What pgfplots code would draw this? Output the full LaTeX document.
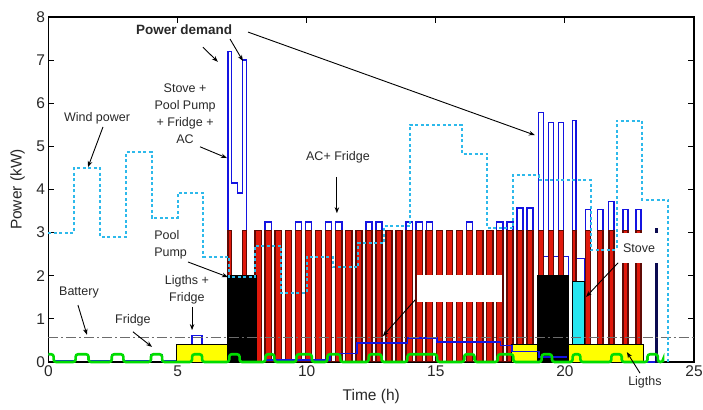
\documentclass[border=0pt]{standalone}
\usepackage{fontspec}
\setmainfont{Liberation Sans}
\usepackage{pgfplots}
\pgfplotsset{compat=1.18}
\usetikzlibrary{calc,arrows.meta}
\definecolor{acred}{RGB}{225,25,12}
\definecolor{acdark}{RGB}{95,10,5}
\definecolor{demblue}{RGB}{20,20,225}
\definecolor{windc}{RGB}{45,185,235}
\definecolor{fridgeg}{RGB}{0,220,0}
\definecolor{stovec}{RGB}{40,230,240}
\definecolor{lightsy}{RGB}{255,255,0}
\definecolor{navybar}{RGB}{10,10,80}
\definecolor{txt}{RGB}{40,40,40}
\begin{document}
\begin{tikzpicture}
\tikzset{ann/.style={font=\fontsize{12.5bp}{17bp}\selectfont, text=txt, align=center, inner sep=1bp},
         arr/.style={-{Stealth[length=6bp,width=4.5bp]}, line width=0.9bp, black}}
\begin{axis}[
 width=645.5bp, height=345bp, scale only axis,
 xmin=0, xmax=25, ymin=0, ymax=8,
 xtick={0,5,...,25}, ytick={0,1,...,8},
 tick align=inside, xtick pos=both, ytick pos=both,
 major tick length=6bp,
 axis line style={line width=1.1bp},
 every tick/.style={black, line width=1bp},
 tick label style={font=\fontsize{15.5bp}{18bp}\selectfont, text=txt},
 /pgf/number format/assume math mode=true,
 xlabel={Time (h)}, ylabel={Power (kW)},
 label style={font=\fontsize{15.5bp}{18bp}\selectfont, text=txt},
 xlabel style={at={(axis description cs:0.5,-0.1014)}, anchor=center},
 ylabel style={at={(axis description cs:-0.048,0.5)}, anchor=center},
 clip=false,
 every axis plot/.append style={const plot},
]
\coordinate (SW) at (rel axis cs:0,0);
\coordinate (NE) at (rel axis cs:1,1);

% Power demand
\addplot[demblue, line width=1.4bp] coordinates {
(0,0.18)(0.2,0.02)(1.05,0.18)(1.55,0.02)(2.45,0.18)(2.9,0.02)(3.97,0.18)(4.4,0.02)
(5.00,0.40)(5.56,0.62)(5.95,0.40)(6.95,7.20)(7.08,4.15)(7.32,3.92)(7.52,7.00)(7.67,2.00)
(8.00,3.05)(8.24,0)(8.39,3.25)(8.63,0)(8.78,3.05)(9.02,0)(9.17,3.05)(9.41,0)
(9.56,3.25)(9.80,0)(9.95,3.25)(10.19,0)(10.34,3.05)(10.58,0)(10.73,3.25)(10.97,0)
(11.12,3.25)(11.36,0)(11.51,3.05)(11.75,0)(11.90,3.05)(12.14,0)(12.29,3.25)(12.53,0)
(12.68,3.25)(12.92,0)(13.07,3.05)(13.31,0)(13.46,3.05)(13.70,0)(13.85,3.25)(14.09,0)
(14.24,3.25)(14.48,0)(14.63,3.25)(14.87,0)(15.02,3.05)(15.26,0)(15.41,3.05)(15.65,0)
(15.80,3.05)(16.04,0)(16.19,3.25)(16.43,0)(16.58,3.05)(16.82,0)(16.97,3.05)(17.21,0)
(17.36,3.25)(17.60,0)(17.75,3.25)(17.99,0.40)(18.14,3.57)(18.38,0.40)(18.53,3.57)(18.77,0.40)
(18.97,5.78)(19.17,2.45)(19.36,5.55)(19.56,2.45)(19.75,5.55)(19.95,2.45)(20.15,0.40)
(20.30,5.60)(20.43,2.40)(20.75,0.40)(20.80,3.53)(21.00,0.40)(21.27,3.53)(21.47,0.40)
(21.70,3.72)(21.90,0.40)(22.25,3.53)(22.45,0.40)(22.75,3.53)(22.95,0.40)(23.05,0)(23.70,0)};

% AC
\addplot[fill=acred, draw=acdark, line width=1.5bp] coordinates {
(6.95,3.05)(7.08,0)(7.52,3.05)(7.67,0)
(8.00,3.05)(8.24,0)(8.39,3.05)(8.63,0)(8.78,3.05)(9.02,0)(9.17,3.05)(9.41,0)
(9.56,3.05)(9.80,0)(9.95,3.05)(10.19,0)(10.34,3.05)(10.58,0)(10.73,3.05)(10.97,0)
(11.12,3.05)(11.36,0)(11.51,3.05)(11.75,0)(11.90,3.05)(12.14,0)(12.29,3.05)(12.53,0)
(12.68,3.05)(12.92,0)(13.07,3.05)(13.31,0)(13.46,3.05)(13.70,0)(13.85,3.05)(14.09,0)
(14.24,3.05)(14.48,0)(14.63,3.05)(14.87,0)(15.02,3.05)(15.26,0)(15.41,3.05)(15.65,0)
(15.80,3.05)(16.04,0)(16.19,3.05)(16.43,0)(16.58,3.05)(16.82,0)(16.97,3.05)(17.21,0)
(17.36,3.05)(17.60,0)(17.75,3.05)(17.99,0)(18.14,3.05)(18.38,0)(18.53,3.05)(18.77,0)
(18.97,3.05)(19.17,0)(19.36,3.05)(19.56,0)(19.75,3.05)(19.95,0)(20.30,3.05)(20.43,0)
(20.80,3.05)(21.00,0)(21.27,3.05)(21.47,0)(21.70,3.05)(21.90,0)(22.25,3.05)(22.45,0)
(22.75,3.05)(22.95,0)} \closedcycle;
\addplot[fill=navybar, draw=navybar, line width=0.6bp] coordinates {(23.49,3.1)(23.57,0)} \closedcycle;

% Stove
\addplot[fill=stovec, draw=black, line width=1bp] coordinates {(20.30,1.86)(20.75,0)} \closedcycle;
% Lights
\addplot[fill=lightsy, draw=black, line width=1bp] coordinates {(4.94,0.40)(6.93,0)(17.95,0.40)(23.05,0)} \closedcycle;
% Pool pump
\addplot[fill=black, draw=black, line width=0.8bp] coordinates {(6.93,2.0)(8.05,0)(18.95,2.0)(20.15,0)} \closedcycle;

% second blue line (unlabelled load)
\addplot[demblue, line width=1.6bp] coordinates {
(8.4,0.05)(10.9,0.2)(11.95,0.44)(13.9,0.56)(15.05,0.47)(17.5,0.38)(17.95,0.24)(19.0,0.12)(20.1,0.12)};

% Battery
\addplot[gray!85!black, line width=1.4bp, dash pattern=on 10bp off 3bp on 2bp off 3bp] coordinates {(0,0.57)(25,0.57)};

% Wind power
\addplot[windc, line width=2bp, dash pattern=on 3bp off 2.5bp] coordinates {
(0,3.0)(1,4.5)(2,2.9)(3,4.87)(4,3.34)(5,3.92)(6,2.44)(7,1.97)(8,2.7)(9,1.6)(10,2.44)
(11,2.2)(12,2.76)(13,3.15)(14,5.5)(16,4.83)(17,3.1)(18,4.34)(19,4.22)(21,2.6)(22,5.6)
(23,3.76)(24,0)};

% Fridge
\addplot[fridgeg, line width=2.6bp, rounded corners=2.5bp] coordinates {
(0,0.18)(0.2,0)(1.05,0.18)(1.55,0)(2.45,0.18)(2.9,0)(3.97,0.18)(4.4,0)(5.56,0.18)(5.95,0)
(7.0,0.18)(7.4,0)(8.4,0.18)(8.75,0)(9.6,0.18)(10.2,0)(10.8,0.18)(11.3,0)(12.4,0.18)(12.9,0)
(13.9,0.18)(15.05,0)(16.1,0.18)(16.5,0)(17.4,0.18)(18.0,0)(19.1,0.18)(19.5,0)(20.3,0.18)(20.6,0)
(21.8,0.18)(22.2,0)(23.2,0.18)(23.6,0)(23.8,0)};

% annotations
\node[ann, font=\fontsize{13.5bp}{16bp}\selectfont\bfseries] at (axis cs:5.25,7.70) {Power demand};
\draw[arr] (axis cs:5.98,7.30) -- (axis cs:6.56,6.96);
\draw[arr] (axis cs:7.03,7.49) -- (axis cs:7.53,6.98);
\draw[arr] (axis cs:7.73,7.65) -- (axis cs:18.84,5.26);

\node[ann] at (axis cs:1.88,5.66) {Wind power};
\draw[arr] (axis cs:2.11,5.45) -- (axis cs:1.53,4.52);

\node[ann] at (axis cs:5.29,5.75) {Stove +\\Pool Pump\\+ Fridge +\\AC};
\draw[arr] (axis cs:5.87,4.99) -- (axis cs:6.91,4.73);

\node[ann] at (axis cs:11.21,4.75) {AC+ Fridge};
\draw[arr] (axis cs:11.17,4.29) -- (axis cs:11.17,3.45);

\node[ann, align=left, anchor=west] at (axis cs:4.05,2.71) {Pool\\Pump};
\draw[arr] (axis cs:5.40,2.32) -- (axis cs:6.95,1.97);

\node[ann] at (axis cs:5.36,1.67) {Ligths +\\Fridge};
\draw[arr] (axis cs:5.56,1.28) -- (axis cs:5.56,0.74);

\node[ann] at (axis cs:1.18,1.62) {Battery};
\draw[arr] (axis cs:1.14,1.32) -- (axis cs:1.49,0.63);

\node[ann] at (axis cs:3.27,0.97) {Fridge};
\draw[arr] (axis cs:3.27,0.70) -- (axis cs:4.01,0.35);

\node[ann, fill=white, minimum width=42bp, minimum height=30bp] at (axis cs:22.87,2.64) {Stove};
\draw[arr] (axis cs:22.06,2.30) -- (axis cs:20.82,1.51);

\node[ann] at (axis cs:23.1,-0.46) {Ligths};
\draw[arr] (axis cs:22.91,-0.26) -- (axis cs:22.40,0.23);

\fill[white] (axis cs:14.27,1.39) rectangle (axis cs:17.56,2.02);
\draw[arr] (axis cs:14.2,1.44) -- (axis cs:12.95,0.60);
\end{axis}
\pgfresetboundingbox
\path[use as bounding box] ($(SW)+(-48.5bp,-48bp)$) rectangle ($(NE)+(9bp,17bp)$);
\end{tikzpicture}
\end{document}
